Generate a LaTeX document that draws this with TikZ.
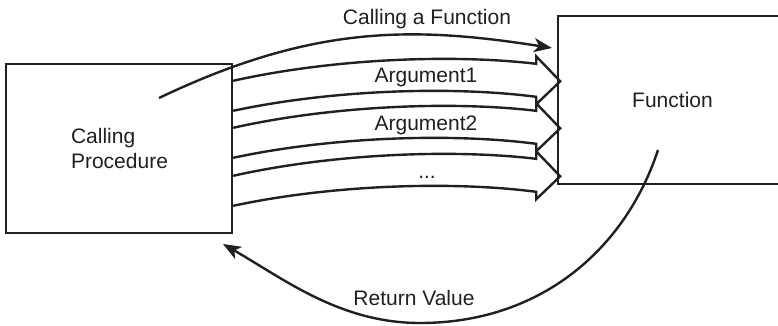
\documentclass[tikz,border=0pt]{standalone}
\usepackage{fontspec}
\setmainfont{Liberation Sans}
\usetikzlibrary{arrows.meta,calc}
\definecolor{ink}{HTML}{231F20}
\begin{document}
\begin{tikzpicture}[x=1pt,y=-1pt,
  box/.style={draw=ink, line width=2.4pt, rectangle, inner sep=0pt},
  lbl/.style={text=ink, font=\fontsize{21}{25}\selectfont, inner sep=0pt},
  conn/.style={draw=ink, line width=2.4pt, -{Stealth[length=18pt,width=14pt,inset=5pt]}},
  blockarrow/.pic={\draw[ink, line width=2.4pt, line join=miter]
     (0,0) .. controls (98,-22) and (218,-27) .. (303,-17)
     -- (303,-24.5) -- (327,0.5) -- (303,23.5) -- (303,16)
     .. controls (218,5) and (98,9) .. (0,30);}
]
\useasboundingbox (0,0) rectangle (778,326);
\clip (0,0) rectangle (778,326);

\node[box, minimum width=226pt, minimum height=169pt] (cp) at (119,148.5) {};
\node[lbl, align=left] (cptext) at (119.5,148) {Calling\\Procedure};
\node[box, lbl, minimum width=229pt, minimum height=168pt] (fn) at (672.5,100) {Function};

\pic at ($(cp.north east)+(0,18)$) {blockarrow};
\pic at ($(cp.north east)+(0,65)$) {blockarrow};
\pic at ($(cp.north east)+(0,113)$) {blockarrow};

\node[lbl, anchor=base] (a1) at (426,83) {Argument1};
\node[lbl, anchor=base] (a2) at (426,131) {Argument2};
\node[lbl, anchor=base] (a3) at (427,178) {...};
\node[lbl, anchor=base] (callt) at (427,25) {Calling a Function};
\node[lbl, anchor=base] (rett) at (414,305) {Return Value};

\coordinate (cs) at (159,98);
\coordinate (ce) at (552,48);
\draw[conn] (cs) .. controls (312,25) and (412,26) .. (ce);

\coordinate (rs) at (658,150);
\coordinate (re) at (223,244);
\draw[conn] (rs) .. controls (625,250) and (540,323) .. (420,323)
  .. controls (340,323) and (284,279) .. (re);
\end{tikzpicture}
\end{document}
